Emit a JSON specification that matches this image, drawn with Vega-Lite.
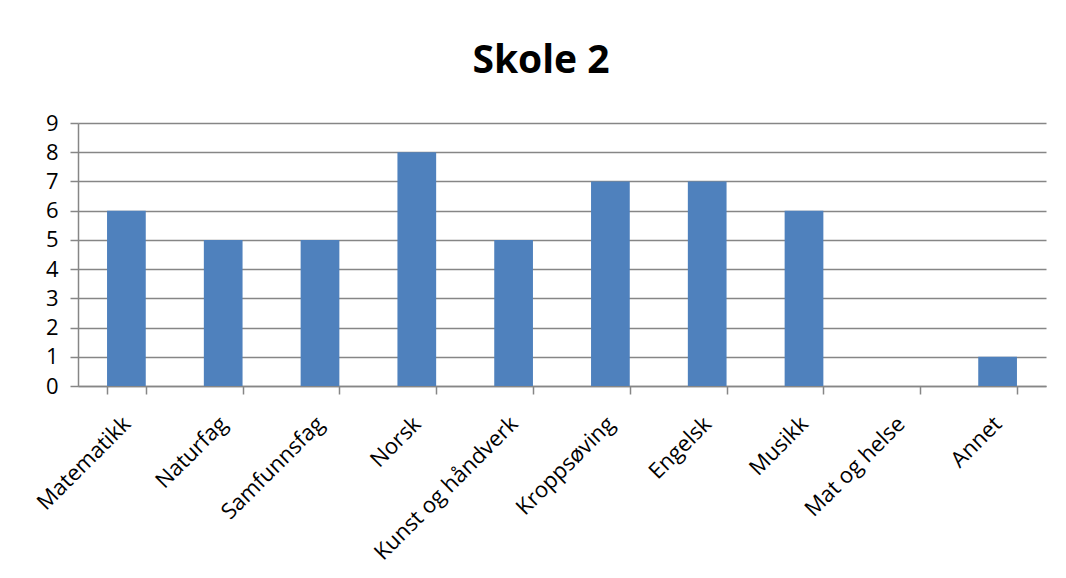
{
  "$schema": "https://vega.github.io/schema/vega-lite/v6.json",
  "width": 968,
  "height": 263,
  "autosize": "none",
  "padding": {"left": 78, "top": 123, "right": 20, "bottom": 192},
  "background": "white",
  "title": {
    "text": "Skole 2",
    "fontSize": 39,
    "font": "Open Sans",
    "fontWeight": "bold",
    "color": "black",
    "anchor": "middle",
    "dx": -21,
    "offset": 31
  },
  "data": {
    "values": [
      {"fag": "Matematikk", "antall": 6},
      {"fag": "Naturfag", "antall": 5},
      {"fag": "Samfunnsfag", "antall": 5},
      {"fag": "Norsk", "antall": 8},
      {"fag": "Kunst og håndverk", "antall": 5},
      {"fag": "Kroppsøving", "antall": 7},
      {"fag": "Engelsk", "antall": 7},
      {"fag": "Musikk", "antall": 6},
      {"fag": "Mat og helse", "antall": 0},
      {"fag": "Annet", "antall": 1}
    ]
  },
  "mark": {"type": "bar", "color": "#4F81BD"},
  "encoding": {
    "x": {
      "field": "fag",
      "type": "nominal",
      "sort": null,
      "title": null,
      "scale": {"paddingInner": 0.6, "paddingOuter": 0.3},
      "axis": {
        "tickBand": "extent",
        "labelAngle": -45,
        "labelAlign": "right",
        "labelBaseline": "middle",
        "labelPadding": 26,
        "labelFont": "Open Sans",
        "labelFontSize": 22,
        "labelColor": "black",
        "labelLimit": 400,
        "domainColor": "#868686",
        "domainWidth": 1.5,
        "tickColor": "#868686",
        "tickWidth": 1.5,
        "tickSize": 8,
        "grid": false
      }
    },
    "y": {
      "field": "antall",
      "type": "quantitative",
      "title": null,
      "scale": {"domain": [0, 9], "nice": false},
      "axis": {
        "values": [0, 1, 2, 3, 4, 5, 6, 7, 8, 9],
        "labelFont": "Open Sans",
        "labelFontSize": 22,
        "labelColor": "black",
        "labelPadding": 12,
        "domainColor": "#868686",
        "domainWidth": 1.5,
        "tickColor": "#868686",
        "tickWidth": 1.5,
        "tickSize": 8,
        "gridColor": "#868686",
        "gridWidth": 1.5
      }
    }
  },
  "config": {
    "view": {"stroke": null}
  }
}
